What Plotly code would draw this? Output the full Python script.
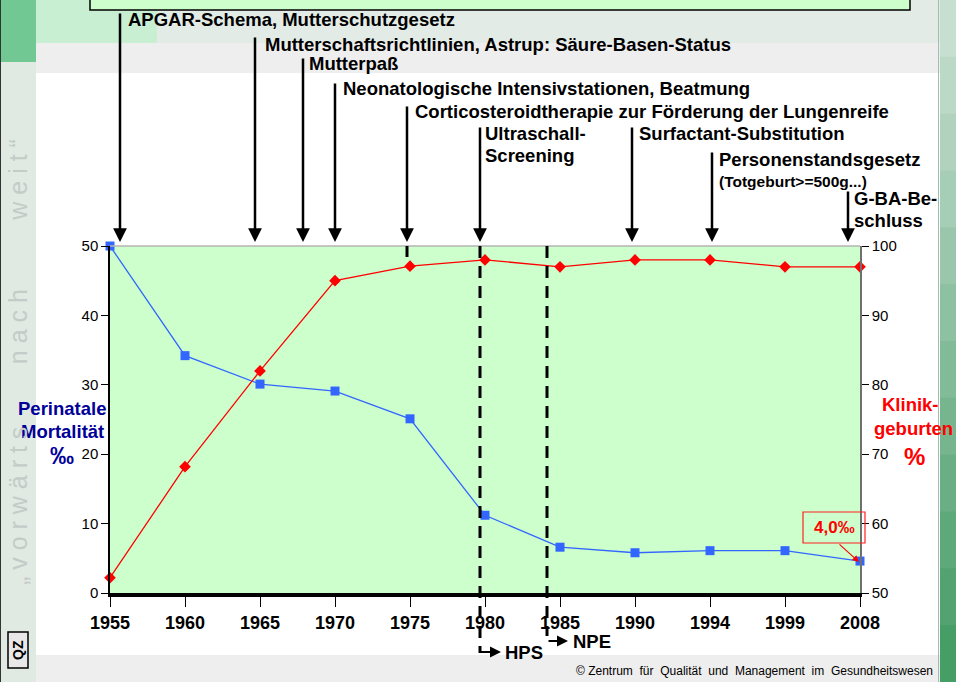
import plotly.graph_objects as go

# ---------------- data ----------------
years = ["1955", "1960", "1965", "1970", "1975", "1980", "1985", "1990", "1994", "1999", "2008"]
mortality = [50.0, 34.2, 30.1, 29.1, 25.1, 11.2, 6.6, 5.8, 6.1, 6.1, 4.6]      # ‰ (left axis)
clinic_births = [52.2, 68.2, 82.0, 95.0, 97.1, 98.0, 97.0, 98.0, 98.0, 97.0, 97.0]  # % (right axis)
left_ticks = [0, 10, 20, 30, 40, 50]
right_ticks = [50, 60, 70, 80, 90, 100]

W, H = 956, 682
L, R, T, B = 110, 860, 246, 593


def px(x):
    return (x - L) / (R - L)


def py(y):
    return (B - y) / (B - T)


FONT = "Liberation Sans, Arial, sans-serif"

fig = go.Figure()
fig.add_trace(go.Scatter(
    x=years, y=mortality, mode="lines+markers", name="Perinatale Mortalität",
    line=dict(color="#3366FF", width=1.3),
    marker=dict(symbol="square", size=9, color="#3366FF"),
    cliponaxis=False, yaxis="y"))
fig.add_trace(go.Scatter(
    x=years, y=clinic_births, mode="lines+markers", name="Klinikgeburten",
    line=dict(color="#FF0000", width=1.3),
    marker=dict(symbol="diamond", size=9, color="#FF0000"),
    cliponaxis=False, yaxis="y2"))

shapes = []


def rect(x0, y0, x1, y1, fill, line=None, lw=0, layer="below"):
    shapes.append(dict(type="rect", xref="paper", yref="paper",
                       x0=px(x0), x1=px(x1), y0=py(y1), y1=py(y0),
                       fillcolor=fill, layer=layer,
                       line=dict(color=line or fill, width=lw)))


def seg(x0, y0, x1, y1, color="black", w=2, dash="solid"):
    shapes.append(dict(type="line", xref="paper", yref="paper",
                       x0=px(x0), x1=px(x1), y0=py(y0), y1=py(y1),
                       layer="above", line=dict(color=color, width=w, dash=dash)))


# slide decoration
rect(36, 0, 940, 43, "#E3EBE6")
rect(36, 0, 157, 65, "#C8EFD2")
rect(36, 43, 940, 73, "#EEEEEE")
rect(36, 655, 940, 682, "#EEEEEE")
rect(0, 0, 36, 62, "#72C893")
rect(0, 62, 36, 682, "#E1E9E3")
seg(0.5, 0, 0.5, 682, "#333333", 1)
grad = ["#C6DFD0", "#BCD9C7", "#B1D3BE", "#A6CDB5", "#9AC7AB", "#8EC1A1", "#82BB97",
        "#76B58D", "#6AAF83", "#5EA979", "#52A36F", "#469D66"]
n = len(grad)
for i, c in enumerate(grad):
    rect(940, i * H / n, 956, (i + 1) * H / n + 1, c)
seg(938.5, 0, 938.5, 682, "#9FBFAE", 1)
rect(90, -4, 910, 10, "#CCFFCC", "black", 1.5)
rect(8, 632, 28, 668, "#E8E8E8", "black", 1.5)

# plot top border (gray)
seg(L, T, R, T, "#B5B5B5", 1.5)

# dashed vertical lines (HPS / NPE)
seg(480, T, 480, 653, "black", 3, "12px,8px")
seg(547, T, 547, 636, "black", 3, "12px,8px")
seg(407, T, 407, 257, "black", 3)
seg(480, 652, 497, 652, "black", 2)

ann = []


def text(x, y, s, size=18.5, color="black", bold=True, xanchor="left", yanchor="middle", angle=0):
    ann.append(dict(xref="paper", yref="paper", x=px(x), y=py(y), text=(f"<b>{s}</b>" if bold else s),
                    showarrow=False, xanchor=xanchor, yanchor=yanchor, textangle=angle,
                    font=dict(family=FONT, size=size, color=color)))


def arrow(x, ytop, ytip, color="black", w=2.5, xt=None):
    if xt is None:
        xt = x
    ann.append(dict(xref="paper", yref="paper", x=px(x), y=py(ytip), text="",
                    showarrow=True, axref="pixel", ayref="pixel",
                    ax=xt - x, ay=ytop - ytip, arrowhead=2, arrowsize=1.1,
                    arrowwidth=w, arrowcolor=color, standoff=0, startstandoff=0))


events = [
    (120, 12, "APGAR-Schema, Mutterschutzgesetz", 126, 19),
    (255, 36, "Mutterschaftsrichtlinien, Astrup: Säure-Basen-Status", 263, 44),
    (303, 57, "Mutterpaß", 307, 64),
    (335, 82, "Neonatologische Intensivstationen, Beatmung", 341, 88),
    (407, 105, "Corticosteroidtherapie zur Förderung der Lungenreife", 413, 111),
    (480, 126, "Ultraschall-", 483, 134),
    (632, 126, "Surfactant-Substitution", 637, 134),
    (712, 151, "Personenstandsgesetz", 717, 159),
    (848, 190, "G-BA-Be-", 852, 198),
]
for (xa, yt, label, xl, yl) in events:
    arrow(xa, yt, 242)
    text(xl, yl, label)
text(483, 156, "Screening")
text(852, 220, "schluss")
text(717, 181, "(Totgeburt>=500g...)", size=15.5)

# HPS / NPE
arrow(497, 652, 652, xt=482, w=2)
ann[-1].update(x=px(501), ax=-19, ay=0)
text(503, 652, "HPS")
arrow(568, 641, 641, xt=548, w=2)
ann[-1].update(ax=-21, ay=0)
text(571, 641, "NPE")

# axis titles
text(62, 408, "Perinatale", color="#000099", xanchor="center")
text(62, 431, "Mortalität", color="#000099", xanchor="center")
text(62, 455, "‰", size=24, color="#000099", xanchor="center")
text(910, 404, "Klinik-", color="#FF0000", xanchor="center")
text(913, 428, "geburten", color="#FF0000", xanchor="center")
text(915, 456, "%", size=24, color="#FF0000", xanchor="center")

# 4,0‰ callout
rect(803, 512, 865, 543, "rgba(0,0,0,0)", "#FF2020", 1.2, layer="above")
text(834, 527, "4,0‰", size=17, color="#FF0000", xanchor="center")
arrow(859, 543, 562, color="#FF0000", w=1.2, xt=838)

# side texts
sp = "\u00a0"
side = sp.join("„vorwärts") + sp * 9 + sp.join("nach") + sp * 10 + sp.join("weit“")
text(18, 362, side, size=25, color="#C3CCC7", bold=False, xanchor="center", angle=-90)
text(18, 650, "QZ", size=14, xanchor="center", angle=-90)
text(935, 671, "© Zentrum" + sp * 2 + "für" + sp * 2 + "Qualität" + sp * 2 + "und" + sp * 2 +
     "Management" + sp * 2 + "im" + sp * 2 + "Gesundheitswesen", size=12,
     bold=False, xanchor="right")

fig.update_layout(
    width=W, height=H,
    margin=dict(l=L, r=W - R, t=T, b=H - B, pad=0),
    paper_bgcolor="white", plot_bgcolor="#CCFFCC",
    showlegend=False,
    font=dict(family=FONT, size=15, color="black"),
    xaxis=dict(type="category", range=[0, 10], showgrid=False, zeroline=False,
               showline=True, linecolor="black", linewidth=4,
               ticks="outside", ticklen=10, tickwidth=1.2, tickcolor="black",
               tickfont=dict(family=FONT, size=18, color="black"),
               tickprefix="<b>", ticksuffix="</b>"),
    yaxis=dict(range=[0, 50], tickvals=left_ticks, showgrid=False, zeroline=False,
               showline=True, linecolor="black", linewidth=1.5,
               ticks="outside", ticklen=7, tickcolor="black",
               tickfont=dict(family=FONT, size=15, color="black")),
    yaxis2=dict(range=[50, 100], tickvals=right_ticks, overlaying="y", side="right",
                showgrid=False, zeroline=False, showline=True, linecolor="#707070",
                linewidth=1.5, ticks="outside", ticklen=7, tickcolor="black",
                tickfont=dict(family=FONT, size=15, color="black")),
    shapes=shapes, annotations=ann,
)

fig.write_html("out.html", config={"displayModeBar": False},
               post_script="document.body.style.margin='0px';document.body.style.overflow='hidden';")
